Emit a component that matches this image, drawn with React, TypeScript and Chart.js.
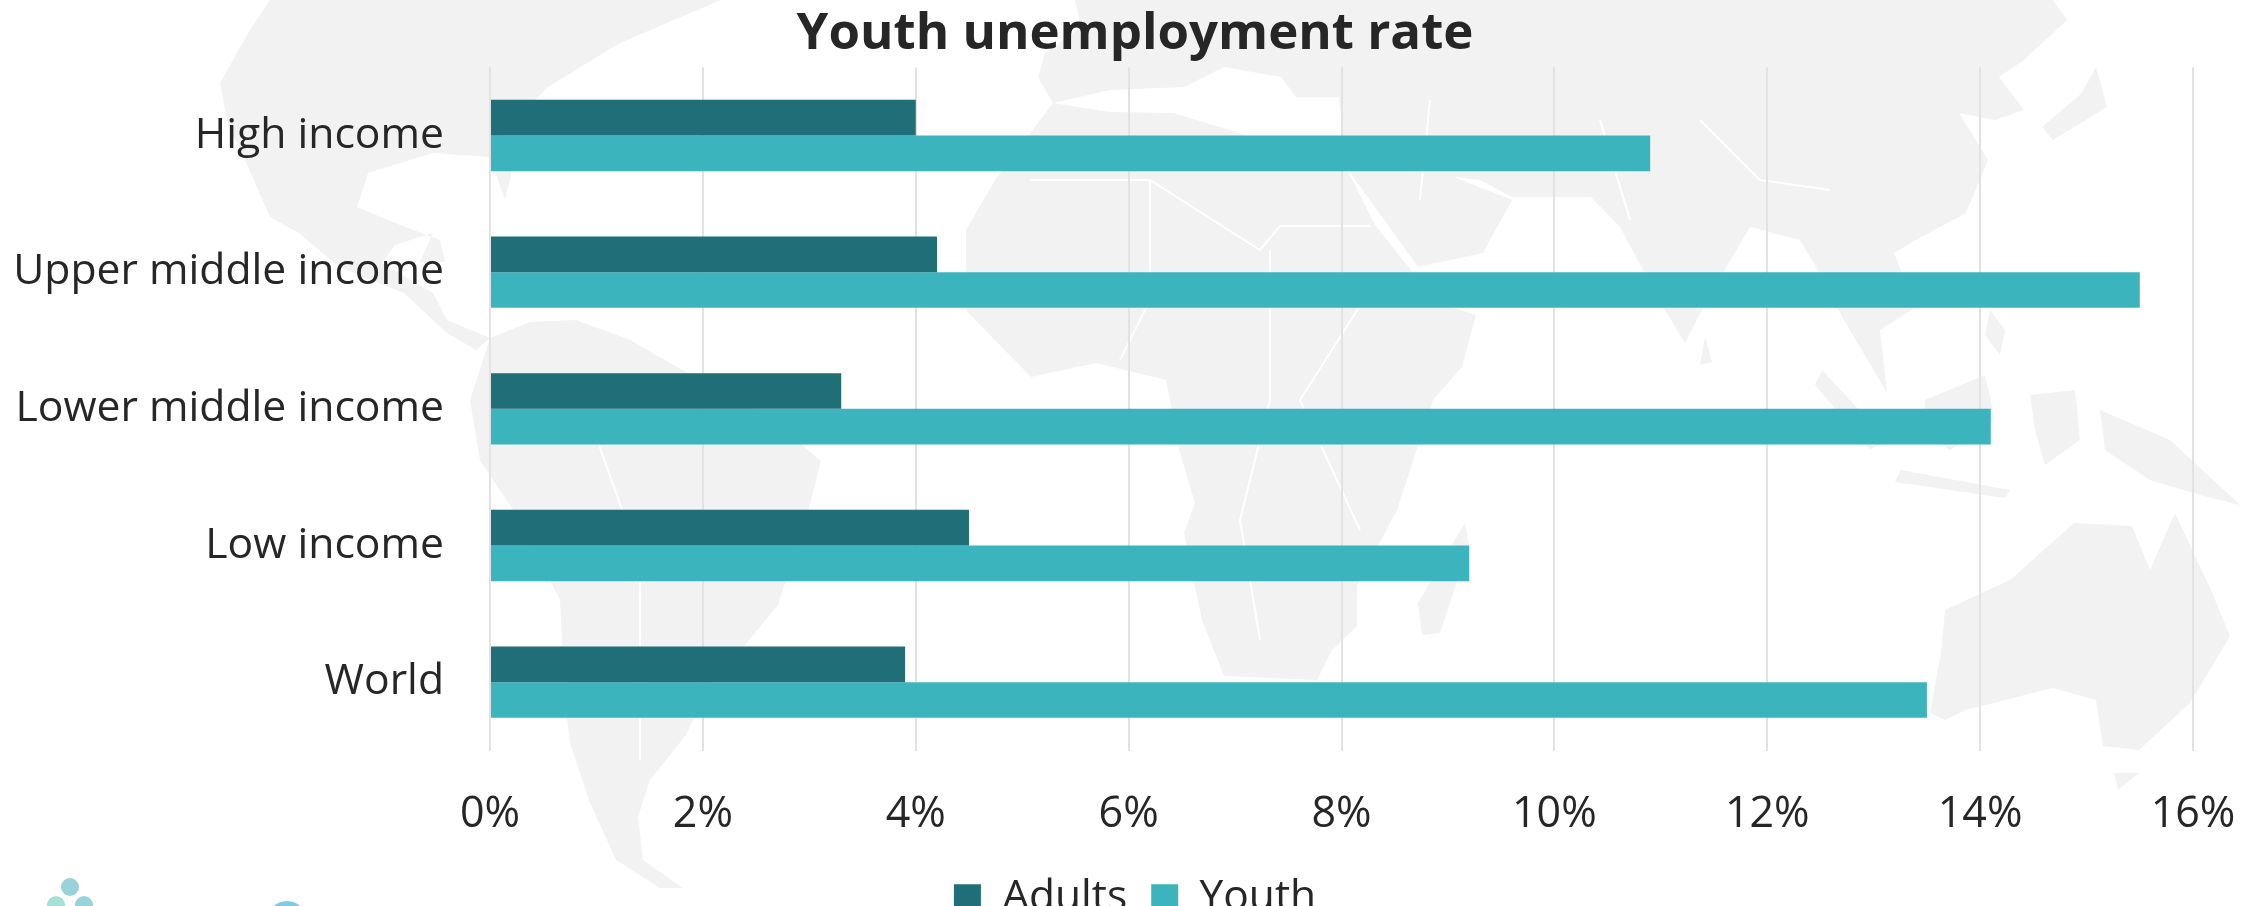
import { useEffect, useRef } from "react";
import { Chart, registerables } from "chart.js";

Chart.register(...registerables);

const categories = ["High income", "Upper middle income", "Lower middle income", "Low income", "World"];
const adults = [4.0, 4.2, 3.3, 4.5, 3.9];
const youth = [10.9, 15.5, 14.1, 9.2, 13.5];

const FONT = '"Open Sans", sans-serif';
const INK = "#262626";
const GRID = "#e2e2e2";

// Decorative world silhouette behind the plot.
const landShapes = [
  "M270,0 L250,30 L220,83 L228,125 L245,160 L270,217 L299,233 L339,267 L404,293 L447,333 L476,350 L490,338 L447,320 L433,293 L382,263 L395,245 L433,233 L420,262 L445,262 L440,240 L400,225 L357,207 L368,173 L433,153 L490,157 L505,200 L512,170 L500,135 L548,87 L620,43 L721,0 Z",
  "M490,338 L530,322 L576,320 L630,340 L677,367 L760,410 L821,461 L806,519 L778,605 L706,692 L686,735 L650,780 L638,817 L643,860 L683,888 L660,888 L616,860 L589,800 L570,743 L565,700 L560,600 L520,520 L480,460 L470,400 Z",
  "M966,230 L995,180 L1053,103 L1110,112 L1173,113 L1230,130 L1290,150 L1346,167 L1375,225 L1411,270 L1430,300 L1476,315 L1462,367 L1433,400 L1397,510 L1357,586 L1357,626 L1332,650 L1317,680 L1224,676 L1202,620 L1184,533 L1195,503 L1180,453 L1166,380 L1096,363 L1031,377 L988,333 L966,310 Z",
  "M1465,523 L1469,546 L1440,633 L1422,635 L1418,603 L1447,553 Z",
  "M1038,77 L1045,53 L1081,27 L1075,0 L2053,0 L2067,20 L2024,60 L1999,77 L2024,110 L1995,120 L1959,113 L1988,160 L1966,213 L1916,240 L1894,253 L1916,307 L1880,330 L1887,393 L1844,320 L1822,277 L1800,240 L1750,227 L1707,300 L1685,343 L1663,307 L1620,227 L1591,197 L1512,197 L1480,180 L1454,177 L1512,200 L1483,253 L1418,267 L1346,167 L1339,97 L1296,97 L1281,77 L1224,67 L1184,87 L1110,90 L1053,103 Z",
  "M2096,67 L2107,107 L2053,140 L2042,127 L2082,93 Z",
  "M1822,370 L1887,440 L1870,450 L1815,385 Z",
  "M1901,470 L2010,490 L2005,498 L1895,482 Z",
  "M1925,400 L1985,375 L1995,420 L1950,450 L1925,435 Z",
  "M2030,395 L2075,390 L2080,440 L2045,465 L2035,430 Z",
  "M2100,410 L2170,440 L2240,505 L2200,495 L2150,480 L2105,450 Z",
  "M1945,610 L2010,580 L2074,523 L2132,526 L2150,570 L2175,513 L2211,590 L2230,636 L2190,703 L2139,750 L2103,746 L2096,700 L2053,688 L1966,710 L1945,720 L1930,713 L1941,653 Z",
  "M2114,773 L2139,773 L2118,790 Z",
  "M1705,336 L1712,362 L1700,365 Z",
  "M1990,310 L2005,330 L2000,355 L1985,335 Z",
];

const borderLines = [
  "M1030,180 L1150,180 L1260,250 L1280,226 L1370,226",
  "M1150,180 L1150,300 L1120,360",
  "M1270,250 L1270,400 L1240,520 L1260,640",
  "M1370,290 L1300,400 L1360,530",
  "M1600,120 L1630,220",
  "M1700,120 L1760,180 L1830,190",
  "M1430,100 L1420,200",
  "M590,420 L640,560 L640,760",
];

const WorldBackdrop = () => (
  <svg width={2260} height={906} style={{ position: "absolute", left: 0, top: 0 }}>
    <g fill="#f2f2f2">
      {landShapes.map((d, i) => (
        <path key={i} d={d} />
      ))}
    </g>
    <g fill="none" stroke="#ffffff" strokeWidth={2}>
      {borderLines.map((d, i) => (
        <path key={i} d={d} />
      ))}
    </g>
    <circle cx={70} cy={887} r={9} fill="#97d3d8" />
    <circle cx={56} cy={905} r={9} fill="#a6dfd6" />
    <circle cx={84} cy={905} r={9} fill="#97d3d8" />
    <circle cx={287} cy={921} r={20} fill="#7ccbe8" />
  </svg>
);

export default function App() {
  const ref = useRef<HTMLCanvasElement>(null);

  useEffect(() => {
    document.body.style.margin = "0";
    document.body.style.overflow = "hidden";
    const chart = new Chart(ref.current!, {
      type: "bar",
      data: {
        labels: categories,
        datasets: [
          { label: "Adults", data: adults, backgroundColor: "#1f6e78", categoryPercentage: 0.522, barPercentage: 1 },
          { label: "Youth", data: youth, backgroundColor: "#3cb4be", categoryPercentage: 0.522, barPercentage: 1 },
        ],
      },
      options: {
        indexAxis: "y",
        responsive: false,
        animation: false,
        layout: { padding: { left: 10, right: 0, top: 0, bottom: 0 } },
        plugins: {
          tooltip: { enabled: false },
          title: {
            display: true,
            text: "Youth unemployment rate",
            color: INK,
            font: { family: FONT, size: 51, weight: "bold", lineHeight: 1.2 },
            padding: { top: 4, bottom: 2 },
          },
          legend: {
            position: "bottom",
            labels: {
              color: INK,
              font: { family: FONT, size: 42.5 },
              boxWidth: 27,
              boxHeight: 27,
              padding: 24,
            },
          },
        },
        scales: {
          x: {
            min: 0,
            max: 16,
            afterFit: (s) => {
              s.height = 102;
              s.paddingRight = 67;
            },
            ticks: {
              stepSize: 2,
              color: INK,
              font: { family: FONT, size: 43 },
              padding: 38,
              maxRotation: 0,
              callback: (v) => `${v}%`,
            },
            border: { display: false },
            grid: { color: GRID, lineWidth: 2, drawTicks: false },
          },
          y: {
            afterFit: (s) => {
              s.width = 480;
              s.paddingTop = 0;
              s.paddingBottom = 0;
            },
            ticks: { color: INK, font: { family: FONT, size: 42.7 }, padding: 46 },
            border: { display: false },
            grid: { display: false, drawTicks: false },
          },
        },
      },
    });
    return () => chart.destroy();
  }, []);

  return (
    <div style={{ position: "relative", width: 2260, height: 906, overflow: "hidden", background: "#fff" }}>
      <WorldBackdrop />
      <canvas ref={ref} width={2260} height={929} style={{ position: "absolute", left: 0, top: 0 }} />
    </div>
  );
}
